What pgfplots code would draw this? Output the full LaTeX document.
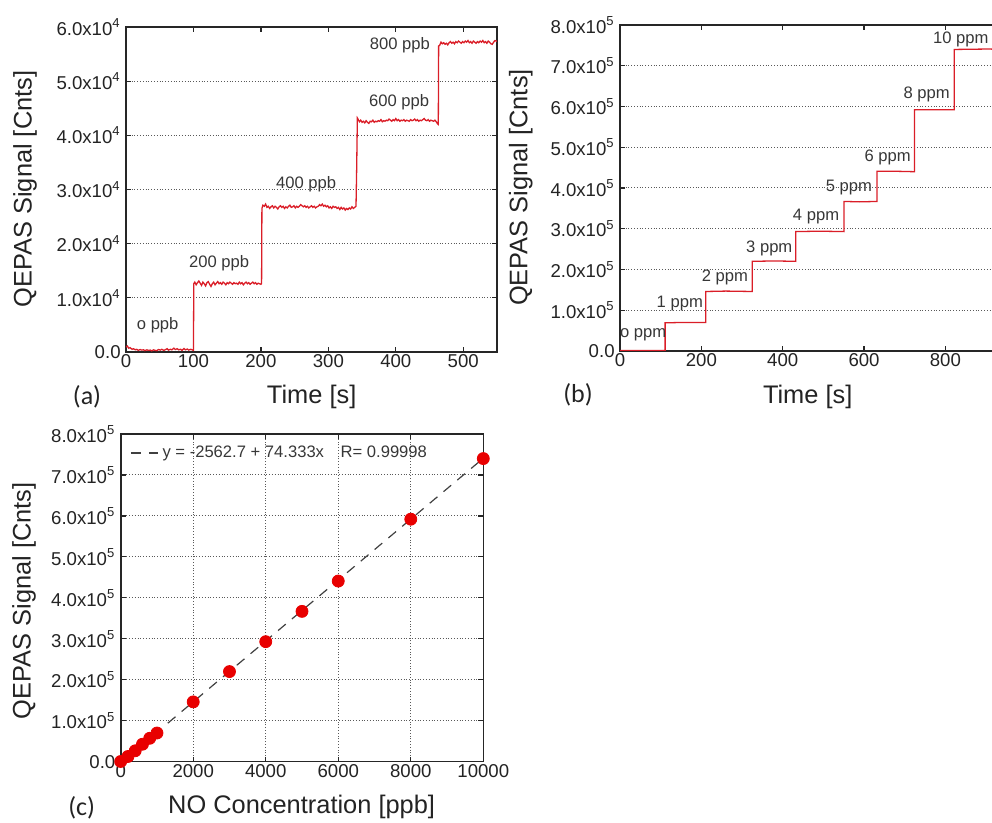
\documentclass[border=0pt]{standalone}
\usepackage{pgfplots}
\pgfplotsset{compat=1.18}
\usepackage{fontspec}
\setmainfont{Liberation Sans}
\newfontfamily\carlito{Carlito}
\definecolor{sigred}{RGB}{218,30,40}
\definecolor{dotred}{RGB}{232,0,0}
\definecolor{txt}{RGB}{35,35,35}
\definecolor{anno}{RGB}{55,55,55}

\pgfplotsset{
  myaxis/.style={
    scale only axis,
    anchor=south west,
    scaled ticks=false,
    axis line style={line width=0.8pt, black!85},
    tick style={line width=0.6pt, black!85},
    major tick length=2.5pt,
    tick align=inside,
    tick pos=both,
    ymajorgrids,
    grid style={densely dotted, black!65, line width=0.5pt},
    ticklabel style={font=\fontsize{9.3}{11}\selectfont, text=txt},
    xticklabel style={inner sep=1.2pt},
    yticklabel style={inner sep=2.5pt},
    label style={font=\fontsize{12.7}{15}\selectfont, text=txt},
    /pgf/number format/assume math mode=true,
  },
}
\tikzset{annot/.style={font=\fontsize{8.3}{10}\selectfont, text=anno, inner sep=0pt}}

\begin{document}
\begin{tikzpicture}
\useasboundingbox (0pt,0pt) rectangle (496pt,411.5pt);
\clip (0pt,0pt) rectangle (496pt,411.5pt);

% ---------------- (a) ----------------
\begin{axis}[myaxis,
  at={(63pt,235.5pt)}, width=185.5pt, height=162.5pt,
  xmin=0, xmax=550, ymin=0, ymax=60000,
  xtick={0,100,200,300,400,500}, xticklabels={0,100,200,300,400,500},
  ytick={0,10000,20000,30000,40000,50000,60000},
  yticklabels={0.0,1.0x10\textsuperscript{4},2.0x10\textsuperscript{4},3.0x10\textsuperscript{4},4.0x10\textsuperscript{4},5.0x10\textsuperscript{4},6.0x10\textsuperscript{4}},
  xlabel={Time [s]}, ylabel={QEPAS Signal [Cnts]},
  xlabel style={at={(axis description cs:0.5005,-0.1375)}, anchor=center},
  ylabel style={at={(axis description cs:-0.272,0.5015)}, anchor=center},
]
\addplot[sigred, line width=0.65pt] coordinates {
(0,900)(2,1100)(4,700)(6,800)(9,500)(11,600)(14,400)(16,500)(18,300)(21,450)(23,350)(26,400)(28,250)(31,400)(33,300)(36,350)(38,200)(41,400)(43,300)(46,250)(48,450)(51,350)(53,500)(56,300)(58,400)(61,600)(63,350)(66,500)(68,400)(71,700)(73,450)(76,600)(78,400)(81,500)(83,300)(86,650)(88,400)(91,550)(93,350)(96,500)(98,400)(100,300)
(100.5,12600)(102,12900)(104,12400)(106,12800)(108,13100)(110,12700)(112,12300)(114,12900)(116,12600)(118,12200)(120,12800)(122,13000)(124,12500)(126,12100)(128,12600)(130,12900)(132,12400)(134,12700)(136,13000)(138,12600)(140,12800)(142,12500)(144,12900)(146,12700)(148,12400)(150,12800)(152,12600)(154,12900)(156,12700)(158,12500)(160,12800)(162,12600)(164,12700)(166,12500)(168,12900)(170,12600)(172,12800)(174,12400)(176,12700)(178,12900)(180,12600)(182,12800)(184,12500)(186,12700)(188,12900)(190,12600)(192,12800)(194,12500)(196,12700)(198,12600)(200,12500)(201,12600)
(201.5,26500)(203,27100)(205,26900)(207,27300)(209,26700)(211,26900)(213,26500)(215,26800)(217,27000)(219,26600)(221,26900)(223,26700)(225,26400)(227,26800)(229,27000)(231,26700)(233,26900)(235,26500)(237,26800)(239,26600)(241,26900)(243,27100)(245,26700)(247,26800)(249,27000)(251,26600)(253,26900)(255,26700)(257,26900)(259,27200)(261,27000)(263,26800)(265,27000)(267,26700)(269,26900)(271,26600)(273,26800)(275,27000)(277,26700)(279,26900)(281,26600)(283,26800)(285,26900)(287,27200)(289,27000)(291,27300)(293,26900)(295,27100)(297,26800)(299,27000)(301,26600)(303,26800)(305,26500)(307,26900)(309,26700)(311,26800)(313,26500)(315,26700)(317,26300)(319,26700)(321,26400)(323,26600)(325,26200)(327,26500)(329,26300)(331,26600)(333,26400)(335,26800)(337,26500)(339,26700)(341,26900)
(342,34000)(343,43200)(344,43000)(346,42500)(348,42800)(350,42400)(352,42600)(354,42300)(356,42700)(358,42400)(360,42200)(362,42600)(364,42500)(366,42800)(368,42400)(370,42600)(372,42500)(374,42700)(376,42600)(378,42900)(380,42500)(382,42700)(384,42600)(386,42800)(388,42700)(390,43000)(392,42800)(394,42600)(396,42900)(398,42700)(400,43100)(402,42700)(404,42900)(406,42600)(408,42800)(410,42700)(412,42900)(414,42600)(416,42800)(418,42700)(420,42600)(422,42900)(424,42700)(426,42800)(428,43000)(430,42700)(432,42900)(434,42600)(436,42800)(438,42700)(440,42900)(442,43100)(444,42800)(446,42700)(448,42900)(450,42600)(452,42800)(454,42700)(456,42600)(458,42800)(460,42500)(462,42100)(463,42000)
(463.5,56500)(465,56600)(467,57200)(469,56900)(471,57100)(473,56800)(475,57000)(477,56700)(479,57100)(481,57300)(483,57000)(485,57200)(487,56900)(489,57300)(491,57100)(493,57400)(495,57200)(497,57000)(499,57300)(501,57100)(503,57400)(505,57200)(507,57500)(509,57100)(511,57300)(513,57000)(515,57400)(517,57200)(519,57000)(521,57300)(523,57100)(525,57400)(527,57200)(529,57500)(531,57100)(533,57300)(535,57000)(537,57400)(539,57200)(541,56900)(543,56800)(545,57200)(547,57500)(549,57400)(550,57300)
};
\node[annot] at (47,4900) {o ppb};
\node[annot] at (138,16400) {200 ppb};
\node[annot] at (267,31000) {400 ppb};
\node[annot] at (405,46200) {600 ppb};
\node[annot] at (406,56600) {800 ppb};
\end{axis}
\node[font=\carlito\fontsize{13}{15}\selectfont, text=txt] at (43.5pt,213pt) {(a)};

% ---------------- (b) ----------------
\begin{axis}[myaxis,
  at={(310pt,236pt)}, width=203.35pt, height=163pt,
  xmin=0, xmax=1000, ymin=0, ymax=800000,
  xtick={0,200,400,600,800}, xticklabels={0,200,400,600,800},
  ytick={0,100000,200000,300000,400000,500000,600000,700000,800000},
  yticklabels={0.0,1.0x10\textsuperscript{5},2.0x10\textsuperscript{5},3.0x10\textsuperscript{5},4.0x10\textsuperscript{5},5.0x10\textsuperscript{5},6.0x10\textsuperscript{5},7.0x10\textsuperscript{5},8.0x10\textsuperscript{5}},
  xlabel={Time [s]}, ylabel={QEPAS Signal [Cnts]},
  xlabel style={at={(axis description cs:0.4615,-0.140)}, anchor=center},
  ylabel style={at={(axis description cs:-0.244,0.5015)}, anchor=center},
]
\addplot[sigred, line width=0.65pt] coordinates {
(0,1000)(60,1200)(111,1000)
(111,69000)(150,70000)(211,70000)
(211,146000)(260,147000)(325,146000)
(325,220000)(380,221000)(432,220000)
(432,293000)(490,294000)(551,293000)
(551,367000)(590,366000)(632,367000)
(632,441000)(680,441000)(724,440000)
(724,592000)(780,592000)(822,592000)
(822,740000)(900,741000)(1000,740000)
};
\node[annot] at (57,39200) {o ppm};
\node[annot] at (147,116700) {1 ppm};
\node[annot] at (258,179400) {2 ppm};
\node[annot] at (367,252800) {3 ppm};
\node[annot] at (482,330400) {4 ppm};
\node[annot] at (563,402100) {5 ppm};
\node[annot] at (658,475500) {6 ppm};
\node[annot] at (754,630700) {8 ppm};
\node[annot] at (838,765300) {10 ppm};
\end{axis}
\node[font=\carlito\fontsize{13}{15}\selectfont, text=txt] at (289pt,214pt) {(b)};

% ---------------- (c) ----------------
\begin{axis}[myaxis,
  at={(60.35pt,30.65pt)}, width=181.3pt, height=163.85pt,
  xmin=0, xmax=10000, ymin=0, ymax=800000,
  xmajorgrids, clip=false,
  xtick={0,2000,4000,6000,8000,10000}, xticklabels={0,2000,4000,6000,8000,10000},
  ytick={0,100000,200000,300000,400000,500000,600000,700000,800000},
  yticklabels={0.0,1.0x10\textsuperscript{5},2.0x10\textsuperscript{5},3.0x10\textsuperscript{5},4.0x10\textsuperscript{5},5.0x10\textsuperscript{5},6.0x10\textsuperscript{5},7.0x10\textsuperscript{5},8.0x10\textsuperscript{5}},
  xlabel={NO Concentration [ppb]}, ylabel={QEPAS Signal [Cnts]},
  xlabel style={at={(axis description cs:0.499,-0.137)}, anchor=center},
  ylabel style={at={(axis description cs:-0.2667,0.491)}, anchor=center},
  legend style={draw=none, fill=none, at={(axis description cs:0.02,0.942)}, anchor=west,
    font=\fontsize{8.3}{10}\selectfont, text=anno, inner sep=1pt},
  legend cell align=left,
  legend image code/.code={\draw[#1] (0pt,0pt) -- (13.5pt,0pt);},
]
\addplot[black!75, line width=0.6pt, dash pattern=on 5pt off 4pt] coordinates {(1300,94070)(10000,740767)};
\addlegendentry{y = -2562.7 + 74.333x\quad R= 0.99998}
\addplot[only marks, mark=*, mark size=3pt, color=dotred, forget plot] coordinates {
(0,500)(200,12700)(400,26600)(600,42600)(800,57100)(1000,70000)(2000,146000)(3000,220000)(4000,293000)(5000,367000)(6000,441000)(8000,592000)(10000,740000)
};
\end{axis}
\node[font=\carlito\fontsize{13}{15}\selectfont, text=txt] at (40.85pt,7.5pt) {(c)};
\end{tikzpicture}
\end{document}
